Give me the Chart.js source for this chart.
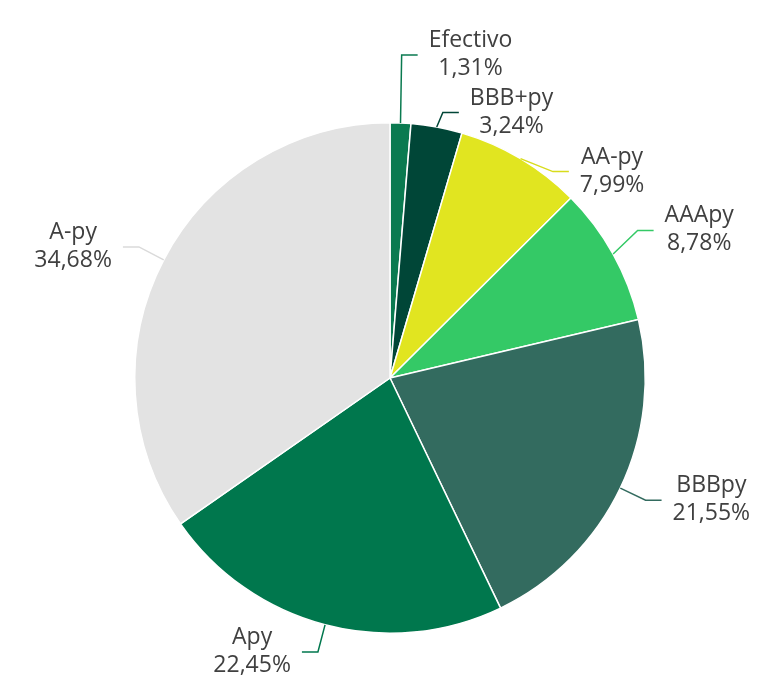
<!DOCTYPE html>
<html>
<head>
<meta charset="utf-8">
<script src="https://cdn.jsdelivr.net/npm/chart.js@4/dist/chart.umd.min.js"></script>
<style>
    html, body { margin: 0; padding: 0; background: #ffffff; }
    #wrap { width: 781px; height: 676px; }
</style>
</head>
<body>
<div id="wrap"><canvas id="pie" width="781" height="676"></canvas></div>
<script>
'use strict';

const categories = ['Efectivo', 'BBB+py', 'AA-py', 'AAApy', 'BBBpy', 'Apy', 'A-py'];
const shares = [1.31, 3.24, 7.99, 8.78, 21.55, 22.45, 34.68];
const sliceColors = ['#0a7a50', '#004637', '#e1e520', '#34c966', '#336b5f', '#00774d', '#e3e3e3'];
const connectorColors = ['#0a7a50', '#004637', '#d8dc1c', '#34c966', '#336b5f', '#00774d', '#dadada'];

// nudges for the label elbows where labels would crowd at the top
const elbowNudges = [[0, -40], [1, 13], [18, 37], [0, -10], [0, 0], [0, 0], [0, 0]];

function fmtPct(v) {
    return v.toFixed(2).replace('.', ',') + '%';
}

const outsideLabels = {
    id: 'outsideLabels',
    afterDatasetsDraw(chart) {
        const ctx = chart.ctx;
        const meta = chart.getDatasetMeta(0);
        ctx.save();
        ctx.font = '23px "Open Sans"';
        ctx.textBaseline = 'alphabetic';
        ctx.textAlign = 'center';
        meta.data.forEach((arc, i) => {
            const mid = (arc.startAngle + arc.endAngle) / 2;
            const r = arc.outerRadius;
            const sx = arc.x + Math.cos(mid) * r;
            const sy = arc.y + Math.sin(mid) * r;
            const ex = arc.x + Math.cos(mid) * (r + 28) + elbowNudges[i][0];
            const ey = arc.y + Math.sin(mid) * (r + 28) + elbowNudges[i][1];
            const dir = ex >= arc.x ? 1 : -1;
            const lx = ex + dir * 16;

            ctx.strokeStyle = connectorColors[i];
            ctx.lineWidth = 1.5;
            ctx.beginPath();
            ctx.moveTo(sx, sy);
            ctx.lineTo(ex, ey);
            ctx.lineTo(lx, ey);
            ctx.stroke();

            const line1 = categories[i];
            const line2 = fmtPct(shares[i]);
            const w = Math.max(ctx.measureText(line1).width, ctx.measureText(line2).width);
            const cx = lx + dir * (11 + w / 2);
            ctx.fillStyle = '#404040';
            ctx.fillText(line1, cx, ey - 8);
            ctx.fillText(line2, cx, ey + 20);
        });
        ctx.restore();
    }
};

new Chart(document.getElementById('pie'), {
    type: 'pie',
    data: {
        labels: categories,
        datasets: [{
            data: shares,
            backgroundColor: sliceColors,
            borderColor: '#ffffff',
            borderWidth: 1.5
        }]
    },
    options: {
        responsive: false,
        animation: false,
        layout: { padding: { top: 122, bottom: 42, left: 134, right: 135 } },
        plugins: {
            legend: { display: false },
            tooltip: { enabled: false }
        }
    },
    plugins: [outsideLabels]
});
</script>
</body>
</html>
